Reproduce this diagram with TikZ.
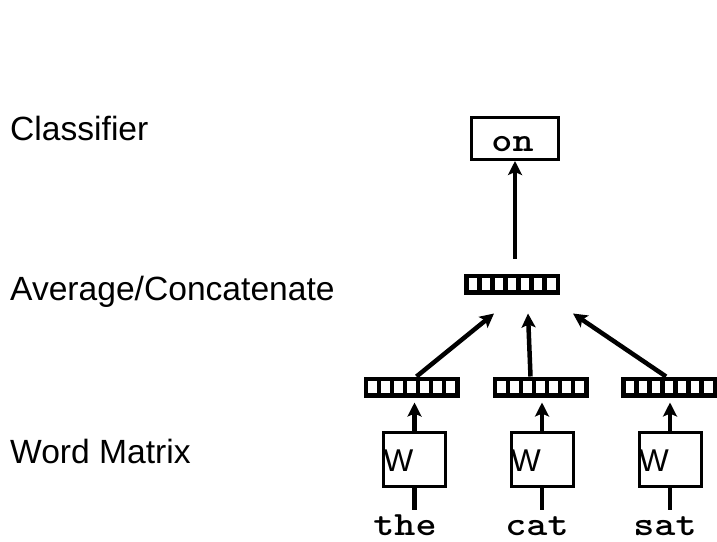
\documentclass[tikz,border=0pt]{standalone}
\usepackage{fontspec}
\setmainfont{Liberation Sans}
\newfontfamily\monofont[FakeStretch=1.18]{lmmonolt10-bold.otf}
\usetikzlibrary{arrows.meta,calc,positioning}

\begin{document}
\begin{tikzpicture}[x=1pt, y=-1pt,
  lab/.style={anchor=base west, inner sep=0pt, font=\fontsize{33.6}{40}\selectfont},
  vecbox/.style={draw, line width=4.5pt, minimum width=91.5pt, minimum height=16.5pt, inner sep=0pt,
    path picture={\foreach \k in {1,...,6} {\draw[line width=4.5pt] ($(path picture bounding box.south west)!\k/7!(path picture bounding box.south east)$) -- ($(path picture bounding box.north west)!\k/7!(path picture bounding box.north east)$);}}},
  wbox/.style={draw, line width=3pt, minimum width=62pt, minimum height=54pt, inner sep=0pt},
  word/.style={font=\monofont\fontsize{34}{40}\selectfont, inner sep=0pt, anchor=base},
  conn/.style={line width=4.5pt},
  arr/.style={conn, -{Stealth[length=14pt, width=14pt, inset=3pt]}}]
\useasboundingbox (0,0) rectangle (717,541);
% layer names
\node[lab] (lcls) at (10,140) {Classifier};
\node[lab] (lavg) at (10,300) {Average/Concatenate};
\node[lab] (lwm) at (10,463) {Word Matrix};
% classifier and pooled vector
\node[draw, line width=3pt, minimum width=87pt, minimum height=42pt, inner sep=0pt] (cls) at (515,138.5) {};
\node[word] (on) at (512.5,151) {on};
\node[vecbox] (avg) at (512,284) {};
\draw[arr, shorten <=15pt] (cls.south |- avg.north) -- (cls.south);
% words
\foreach \i/\x/\wx/\word/\wdx in {1/411.5/414.5/the/405, 2/540.5/542/cat/537, 3/669/670/sat/665} {
  \node[vecbox] (v\i) at (\x,387) {};
  \node[wbox] (w\i) at (\wx,459.5) {};
  \node[anchor=base west, inner sep=0pt, font=\fontsize{31.5}{36}\selectfont] (wl\i) at ($(w\i.west)+(1.5,12)$) {W};
  \node[word] (\word) at (\wdx,535) {\word};
  \coordinate (b\i) at ($(w\i.south)+(0,22)$);
  \draw[arr, shorten >=5pt] (w\i.north) -- (w\i.north |- v\i.south);
  \draw[conn] (w\i.south) -- (b\i);
}
\coordinate (inL) at ($(avg.south)+(-18,19)$);
\coordinate (inM) at ($(avg.south)+(16,19)$);
\coordinate (inR) at ($(avg.south)+(61,19)$);
\draw[arr] ($(v1.north)+(5,0)$) -- (inL);
\draw[arr] ($(v2.north)+(-10,0)$) -- (inM);
\draw[arr] ($(v3.north)+(-3,0)$) -- (inR);
\end{tikzpicture}
\end{document}
